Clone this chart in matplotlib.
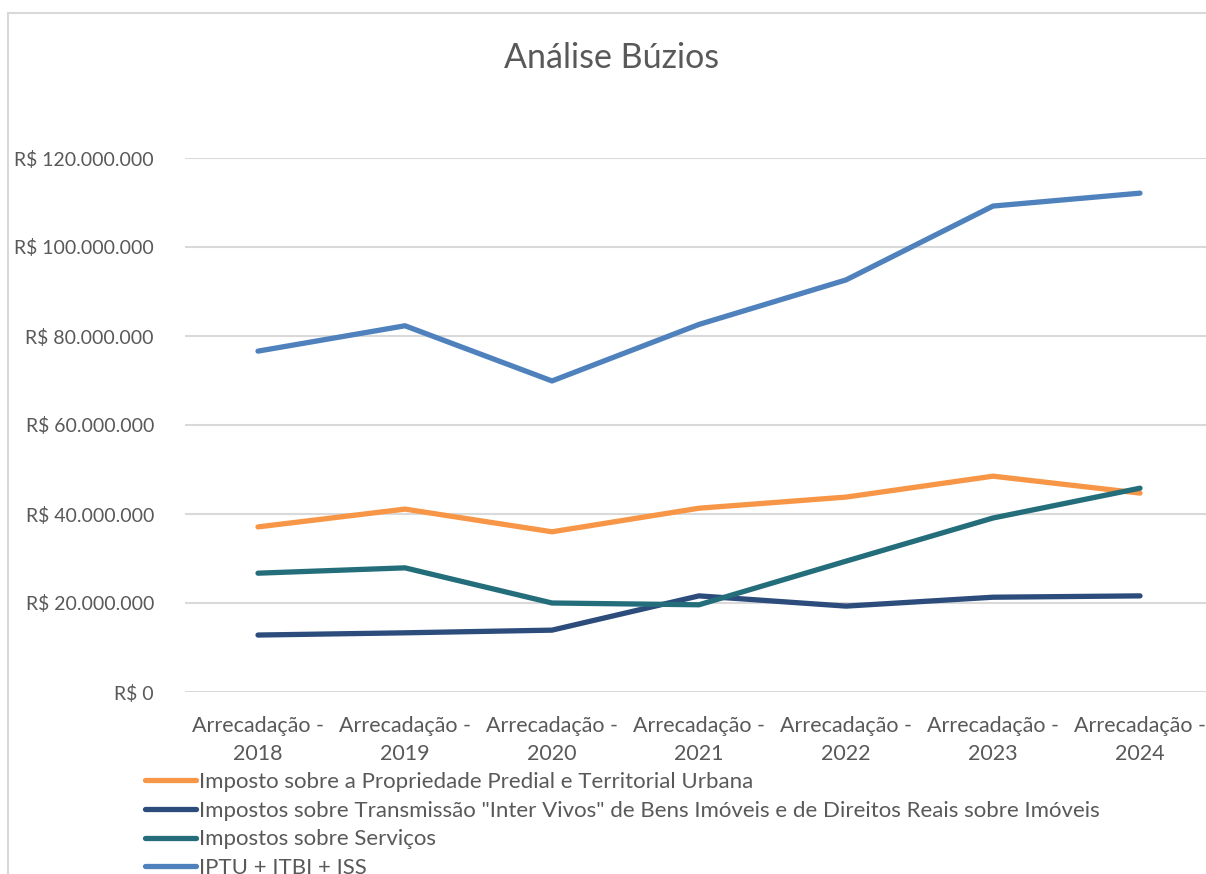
import matplotlib
matplotlib.use('Agg')
import matplotlib.pyplot as plt
from matplotlib.lines import Line2D
from matplotlib.ticker import FuncFormatter

plt.rcParams['font.family'] = ['Lato', 'DejaVu Sans']

# dados
anos = ['2018', '2019', '2020', '2021', '2022', '2023', '2024']
rotulos = ['Arrecadação -\n' + a for a in anos]
iptu = [37.1e6, 41.1e6, 36.0e6, 41.3e6, 43.8e6, 48.5e6, 44.7e6]
itbi = [12.8e6, 13.3e6, 13.9e6, 21.6e6, 19.3e6, 21.3e6, 21.6e6]
iss = [26.7e6, 27.9e6, 20.0e6, 19.6e6, 29.4e6, 39.1e6, 45.8e6]
total = [76.6e6, 82.3e6, 69.9e6, 82.6e6, 92.6e6, 109.2e6, 112.1e6]

series = [
    ('Imposto sobre a Propriedade Predial e Territorial Urbana', iptu, '#F79646'),
    ('Impostos sobre Transmissão "Inter Vivos" de Bens Imóveis e de Direitos Reais sobre Imóveis', itbi, '#2C4C7C'),
    ('Impostos sobre Serviços', iss, '#246E7C'),
    ('IPTU + ITBI + ISS', total, '#4F81BD'),
]

cinza = '#595959'

fig = plt.figure(figsize=(12.06, 8.74), dpi=100)
# borda da area do grafico (so topo e esquerda aparecem)
bx, by = 8 / 1206, 1 - 13 / 874
fig.add_artist(Line2D([bx, 1.0], [by, by], transform=fig.transFigure,
                      color='#D9D9D9', linewidth=1.5))
fig.add_artist(Line2D([bx, bx], [0.0, by], transform=fig.transFigure,
                      color='#D9D9D9', linewidth=1.5))

ax = fig.add_axes([184.5 / 1206, 182 / 874, 1029 / 1206, 534 / 874])
x = list(range(len(anos)))
for nome, vals, cor in series:
    ax.plot(x, vals, color=cor, linewidth=3.8, solid_capstyle='round',
            solid_joinstyle='round', label=nome)

ax.set_xlim(-0.5, len(anos) - 0.5)
ax.set_ylim(0, 120e6)
ax.set_yticks([0, 20e6, 40e6, 60e6, 80e6, 100e6, 120e6])
ax.yaxis.set_major_formatter(FuncFormatter(
    lambda v, p: 'R$ ' + format(int(v), ',').replace(',', '.')))
ax.set_xticks(x)
ax.set_xticklabels(rotulos, fontsize=15.5, linespacing=1.5)
ax.tick_params(axis='both', length=0, labelcolor=cinza)
ax.tick_params(axis='y', pad=22, labelsize=14)
ax.tick_params(axis='x', pad=17)
ax.grid(axis='y', color='#D9D9D9', linewidth=1.5)
ax.set_axisbelow(True)
for s in ax.spines.values():
    s.set_visible(False)

fig.text(612 / 1206, 1 - 58 / 874, 'Análise Búzios', ha='center', va='center',
         fontsize=24.5, color=cinza)

fig.legend(loc='upper left', bbox_to_anchor=(145 / 1206, 1 - 772 / 874),
           frameon=False, fontsize=16, labelcolor=cinza, handlelength=2.3,
           handletextpad=0.15, labelspacing=0.39, borderpad=0, borderaxespad=0)

fig.savefig('out.png', dpi=100)
